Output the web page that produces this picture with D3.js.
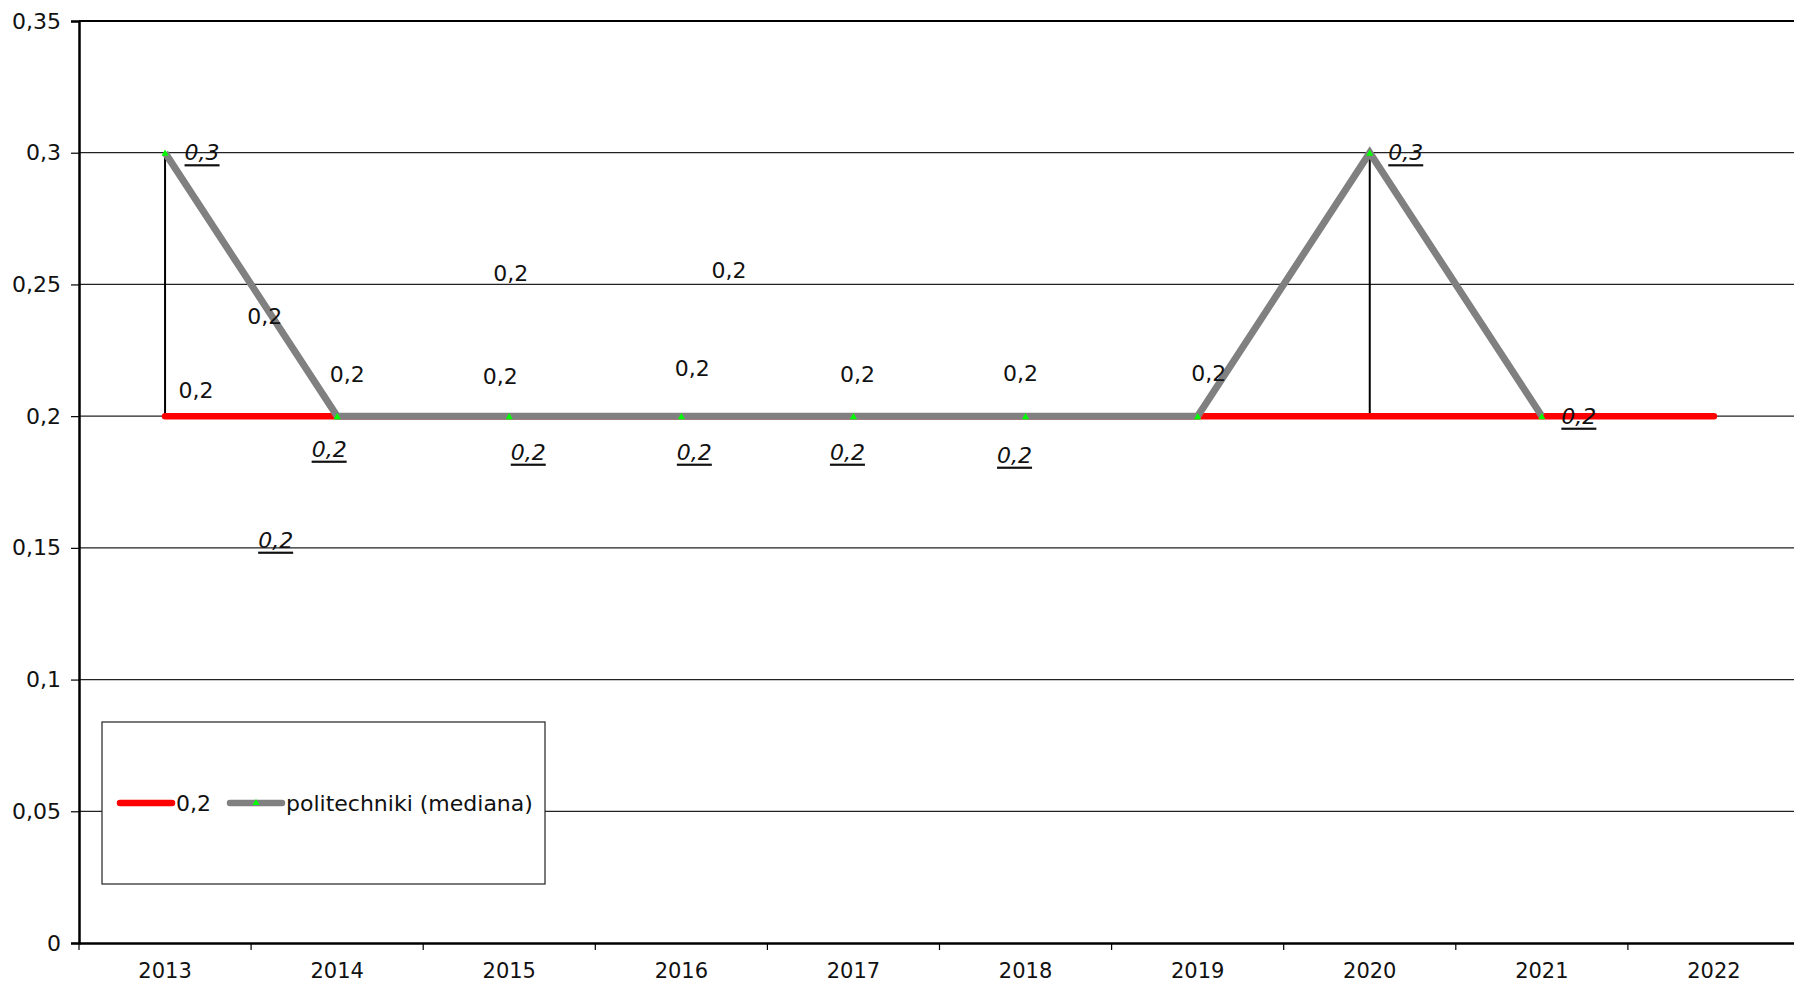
<!DOCTYPE html>
<html>
<head>
<meta charset="utf-8">
<script src="https://cdn.jsdelivr.net/npm/d3@7"></script>
<style>
  html, body { margin: 0; padding: 0; background: #fff; overflow: hidden; }
  svg { display: block; }
  text { font-family: "DejaVu Sans", Verdana, sans-serif; fill: #111; }
</style>
</head>
<body>
<svg id="chart" width="1794" height="983"></svg>
<script>
// ---- data ----
const years = ["2013","2014","2015","2016","2017","2018","2019","2020","2021","2022"];
const redName = "0,2";
const redValues = [0.2,0.2,0.2,0.2,0.2,0.2,0.2,0.2,0.2,0.2];
const grayName = "politechniki (mediana)";
const grayValues = [0.3,0.2,0.2,0.2,0.2,0.2,0.2,0.3,0.2,null];
const yTicks = [0,0.05,0.1,0.15,0.2,0.25,0.3,0.35];

// ---- layout (label nudges in px, relative to each point) ----
const redLabelOffsets = [[31,-26],[10,-42],[-9,-40],[11,-48],[4,-42],[-5,-43],[11,-43],[-1105,-100],[-1031,-143],[-985,-146]];
const grayLabelOffsets = [[37,0],[-8,33],[19,36],[13,36],[-6,36],[-11,39],[-922,124],[36,0],[37,0],null];

(function () {
const W = 1794, H = 983;
const mLeft = 79, mTop = 21, mBottom = 943, mRight = 1800;
const FS = "22px";
const svg = d3.select("#chart");

const locale = d3.formatLocale({decimal: ",", thousands: " ", grouping: [3], currency: ["", ""]});
const fmt = locale.format(".2~f");

const x = d3.scaleBand().domain(years).range([mLeft, mRight]).padding(0);
const cx = d => x(d) + x.bandwidth() / 2;
const y = d3.scaleLinear().domain([0, 0.35]).range([mBottom, mTop]);

// gridlines
svg.append("g").selectAll("line").data(yTicks.filter(t => t > 0 && t < 0.35)).join("line")
  .attr("x1", mLeft).attr("x2", W).attr("y1", d => y(d)).attr("y2", d => y(d))
  .attr("stroke", "#222").attr("stroke-width", 1.2);
// top border
svg.append("line").attr("x1", mLeft).attr("x2", W).attr("y1", y(0.35)).attr("y2", y(0.35))
  .attr("stroke", "#000").attr("stroke-width", 2);

// y axis
const yAxis = d3.axisLeft(y).tickValues(yTicks).tickFormat(fmt).tickSize(8).tickPadding(10);
const gy = svg.append("g").attr("transform", `translate(${mLeft},0)`).call(yAxis);
gy.select(".domain").attr("stroke", "#000").attr("stroke-width", 2.5);
gy.selectAll(".tick line").attr("stroke", "#000").attr("stroke-width", 1.2);
gy.selectAll(".tick text").style("font-size", FS).style("font-family", "DejaVu Sans").attr("fill", "#111");

// x axis
const xAxis = d3.axisBottom(x).tickSize(0).tickPadding(20);
const gx = svg.append("g").attr("transform", `translate(0,${mBottom})`).call(xAxis);
gx.select(".domain").attr("stroke", "#000").attr("stroke-width", 2.5);
gx.selectAll(".tick text").style("font-size", "21px").style("font-family", "DejaVu Sans").attr("fill", "#111");
// x ticks at category boundaries
svg.append("g").selectAll("line").data(years).join("line")
  .attr("x1", d => x(d)).attr("x2", d => x(d)).attr("y1", mBottom).attr("y2", mBottom + 7)
  .attr("stroke", "#000").attr("stroke-width", 1.2);

// hi-lo lines
svg.append("g").selectAll("line").data(years.filter((d, i) => grayValues[i] != null)).join("line")
  .attr("x1", d => cx(d)).attr("x2", d => cx(d))
  .attr("y1", d => { const i = years.indexOf(d); return y(Math.max(redValues[i], grayValues[i])); })
  .attr("y2", d => { const i = years.indexOf(d); return y(Math.min(redValues[i], grayValues[i])); })
  .attr("stroke", "#000").attr("stroke-width", 2);

// red series
const line = d3.line().defined(d => d[1] != null).x(d => cx(d[0])).y(d => y(d[1]));
svg.append("path").datum(years.map((d, i) => [d, redValues[i]]))
  .attr("d", line).attr("fill", "none").attr("stroke", "#ff0000").attr("stroke-width", 6.5)
  .attr("stroke-linecap", "round").attr("stroke-linejoin", "round");
// gray series
svg.append("path").datum(years.map((d, i) => [d, grayValues[i]]))
  .attr("d", line).attr("fill", "none").attr("stroke", "#808080").attr("stroke-width", 7)
  .attr("stroke-linecap", "butt").attr("stroke-linejoin", "miter");
// green markers
const tri = d3.symbol().type(d3.symbolTriangle).size(22);
svg.append("g").selectAll("path").data(years.filter((d, i) => grayValues[i] != null)).join("path")
  .attr("d", tri).attr("fill", "#00ff00")
  .attr("transform", d => `translate(${cx(d)},${y(grayValues[years.indexOf(d)]) + 1})`);

// red labels
svg.append("g").selectAll("text").data(years).join("text")
  .attr("x", (d, i) => cx(d) + redLabelOffsets[i][0])
  .attr("y", (d, i) => y(redValues[i]) + redLabelOffsets[i][1])
  .attr("text-anchor", "middle").attr("dominant-baseline", "central")
  .style("font-size", FS).text((d, i) => fmt(redValues[i]));

// gray labels (italic, underlined)
svg.append("g").selectAll("text").data(years.filter((d, i) => grayValues[i] != null)).join("text")
  .attr("x", d => { const i = years.indexOf(d); return cx(d) + grayLabelOffsets[i][0]; })
  .attr("y", d => { const i = years.indexOf(d); return y(grayValues[i]) + grayLabelOffsets[i][1]; })
  .attr("text-anchor", "middle").attr("dominant-baseline", "central")
  .style("font-size", FS).style("font-style", "italic").style("text-decoration", "underline")
  .text(d => fmt(grayValues[years.indexOf(d)]));

// legend
const lg = svg.append("g");
lg.append("rect").attr("x", 102).attr("y", 722).attr("width", 443).attr("height", 162)
  .attr("fill", "#fff").attr("stroke", "#222").attr("stroke-width", 1.2);
const ly = 803;
lg.append("line").attr("x1", 120).attr("x2", 172).attr("y1", ly).attr("y2", ly)
  .attr("stroke", "#ff0000").attr("stroke-width", 6.5).attr("stroke-linecap", "round");
lg.append("text").attr("x", 176).attr("y", ly).attr("dominant-baseline", "central")
  .style("font-size", FS).text(redName);
lg.append("line").attr("x1", 230).attr("x2", 282).attr("y1", ly).attr("y2", ly)
  .attr("stroke", "#808080").attr("stroke-width", 6.5).attr("stroke-linecap", "round");
lg.append("path").attr("d", tri).attr("fill", "#00ff00").attr("transform", `translate(256,${ly})`);
lg.append("text").attr("x", 286).attr("y", ly).attr("dominant-baseline", "central")
  .style("font-size", FS).text(grayName);
})();
</script>
</body>
</html>
